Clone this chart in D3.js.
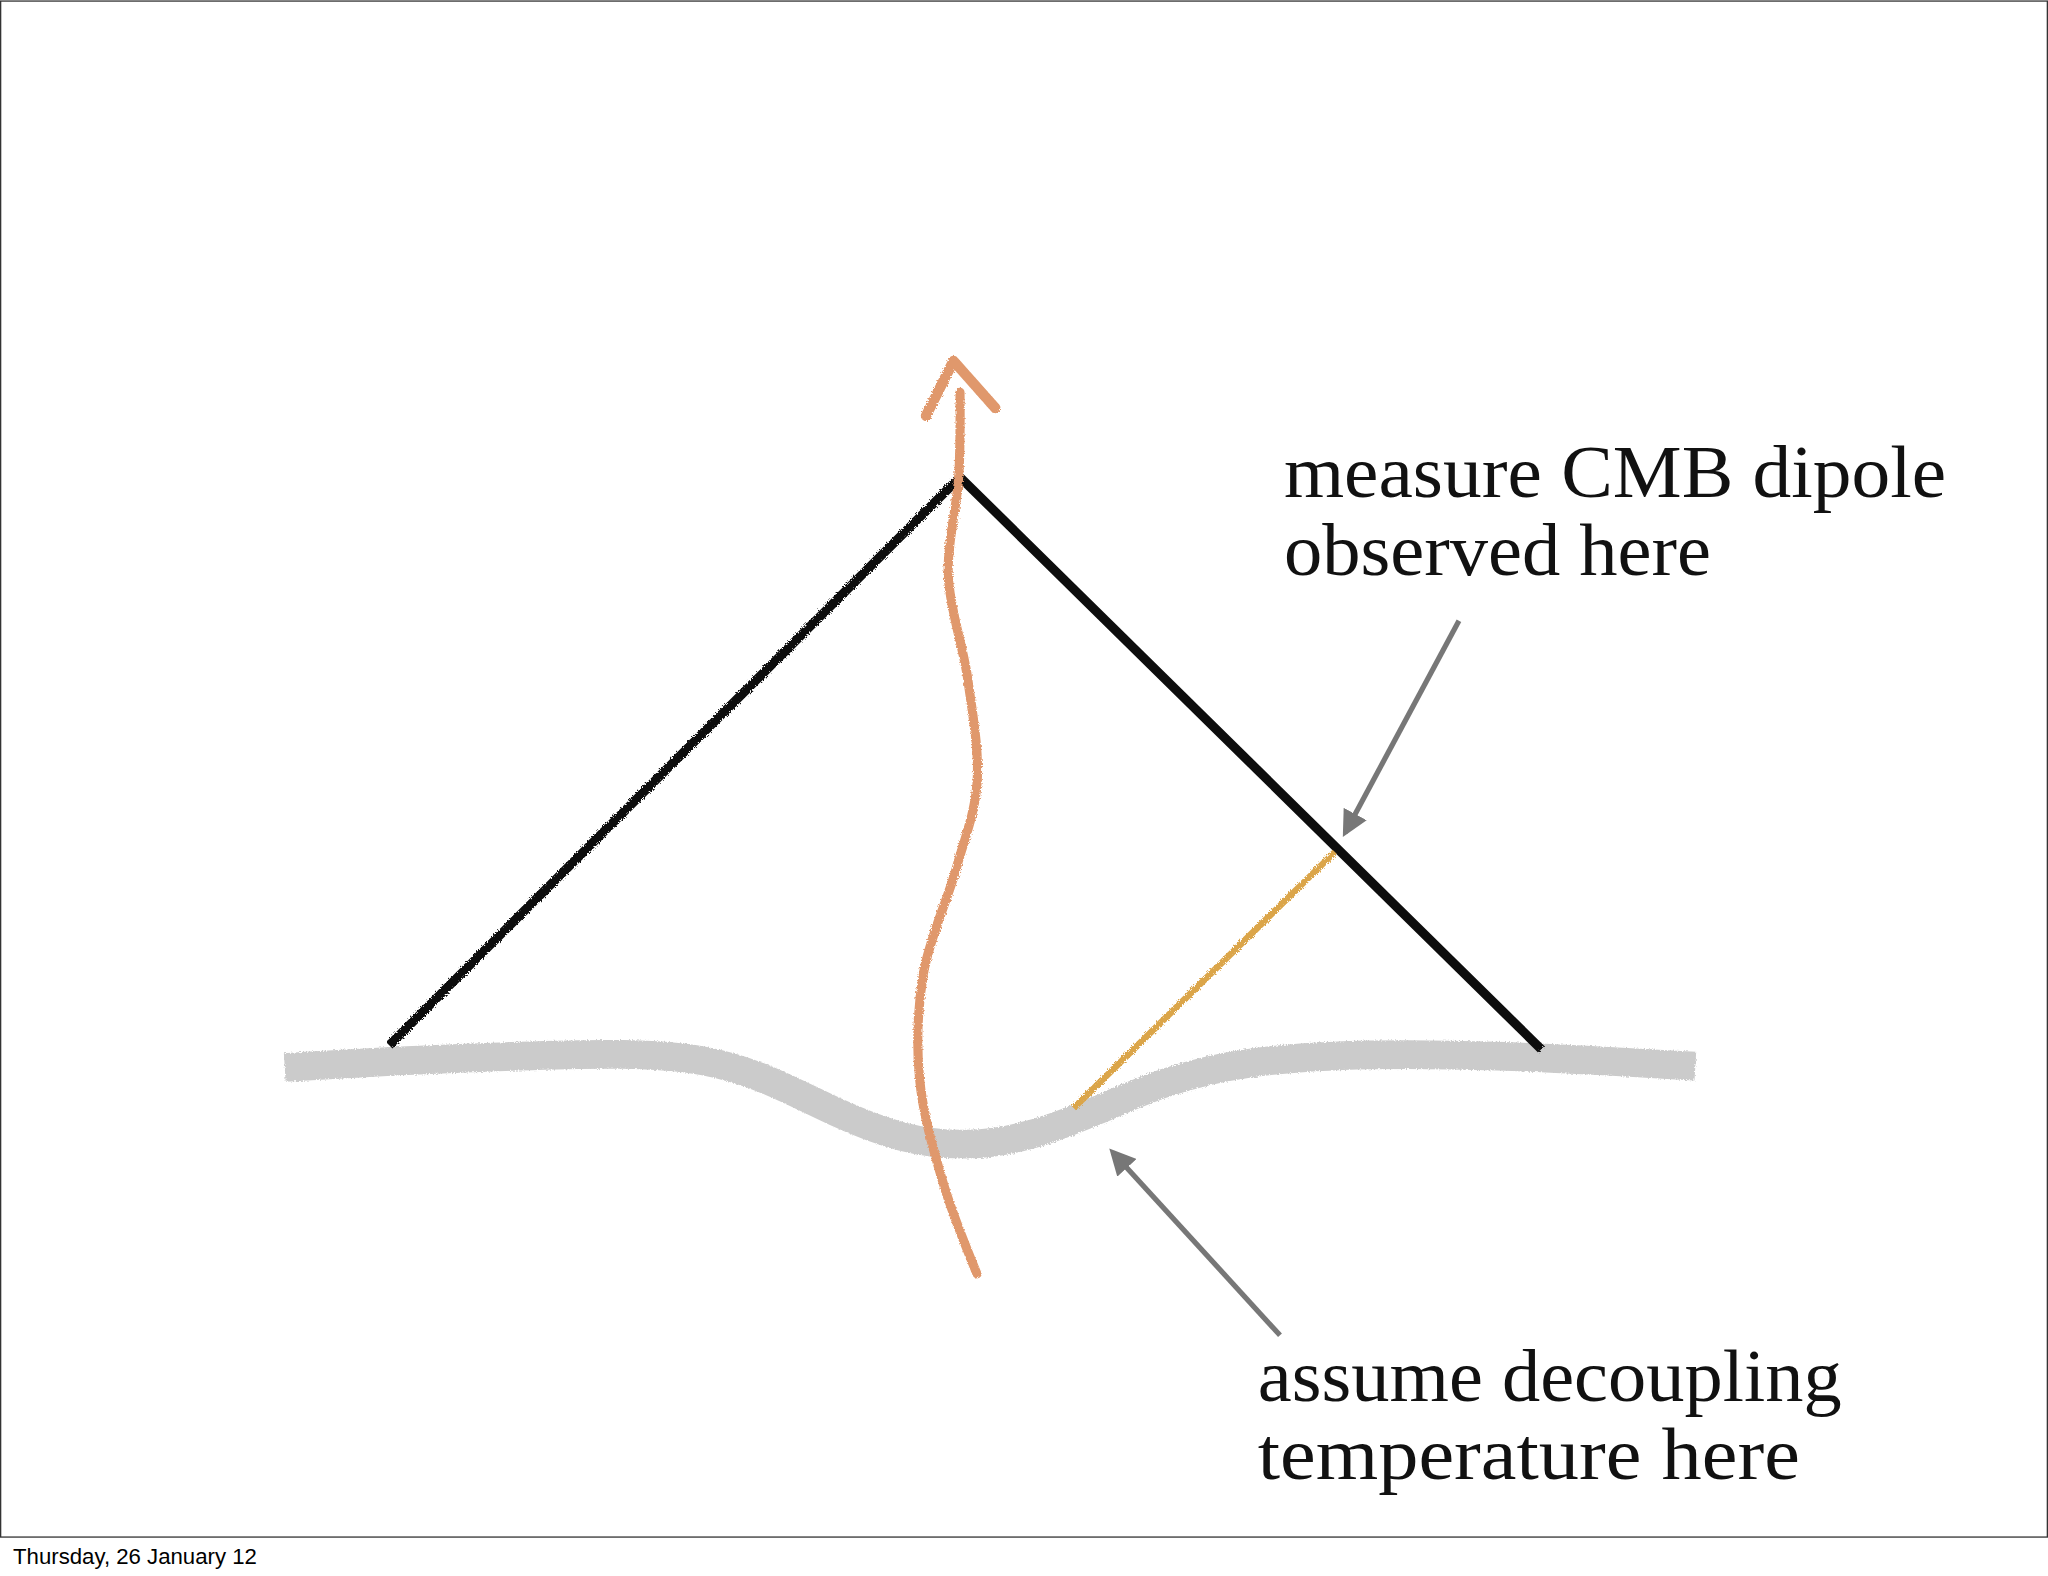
<!DOCTYPE html>
<html><head><meta charset="utf-8">
<script src="https://cdn.jsdelivr.net/npm/d3@7"></script>
<style>html,body{margin:0;padding:0;background:#fff;}</style>
</head><body>
<svg id="c" width="2048" height="1576" viewBox="0 0 1568 1206"></svg>
<script>
const surface = [[218,817],[300,812],[400,808],[480,806],[540,810],[590,826],[640,852],[690,872],[740,878],[790,870],[840,850],[890,828],[950,812],[1050,806],[1150,808],[1230,812],[1298,816]];
const cone = [[298,800],[735,365],[1180,803]];
const path = [[748,975],[722,905],[704,825],[707,745],[732,665],[748,600],[741,520],[726,440],[734,365],[735,300]];
const arrowHead = [[709,318],[730,276],[762,312]];
const sightLine = [[822,848],[1022,652]];
const pointers = [[[1117,475],[1030,637]],[[980,1022],[852,882]]];
const labels = [
  {lines:["measure CMB dipole","observed here"], widths:[507,327], x:983, y:380},
  {lines:["assume decoupling","temperature here"], widths:[447,415], x:963, y:1072}
];
const footer = "Thursday, 26 January 12";

const svg = d3.select("#c");
const defs = svg.append("defs");
const f = defs.append("filter").attr("id","rough").attr("filterUnits","userSpaceOnUse")
  .attr("x",0).attr("y",0).attr("width",1568).attr("height",1206);
f.append("feTurbulence").attr("type","fractalNoise").attr("baseFrequency",0.9).attr("numOctaves",2).attr("result","n");
f.append("feDisplacementMap").attr("in","SourceGraphic").attr("in2","n").attr("scale",3);
defs.append("marker").attr("id","ah").attr("viewBox","0 0 10 10").attr("refX",8).attr("refY",5)
  .attr("markerWidth",5).attr("markerHeight",5).attr("orient","auto")
  .append("path").attr("d","M0,0L10,5L0,10z").attr("fill","#777");

svg.append("rect").attr("x",0.5).attr("y",0.5).attr("width",1567).attr("height",1176).attr("fill","none").attr("stroke","#333").attr("stroke-width",1);

const smooth = d3.line().curve(d3.curveBasis);
const straight = d3.line();

svg.append("path").attr("d",smooth(surface)).attr("fill","none").attr("stroke","#cbcbcb").attr("stroke-width",22).attr("filter","url(#rough)");
svg.append("path").attr("d",straight(cone)).attr("fill","none").attr("stroke","#111").attr("stroke-width",7).attr("stroke-linejoin","miter").attr("filter","url(#rough)");
svg.append("path").attr("d",straight(sightLine)).attr("fill","none").attr("stroke","#dba54a").attr("stroke-width",5).attr("filter","url(#rough)");
svg.append("path").attr("d",d3.line().curve(d3.curveCatmullRom)(path)).attr("fill","none").attr("stroke","#e0986c").attr("stroke-width",7).attr("stroke-linecap","round").attr("filter","url(#rough)");
svg.append("path").attr("d",straight(arrowHead)).attr("fill","none").attr("stroke","#e0986c").attr("stroke-width",8).attr("stroke-linejoin","round").attr("stroke-linecap","round").attr("filter","url(#rough)");

pointers.forEach(p=>svg.append("path").attr("d",straight(p)).attr("fill","none").attr("stroke","#777").attr("stroke-width",4).attr("marker-end","url(#ah)"));

labels.forEach(l=>{
  l.lines.forEach((s,i)=>svg.append("text").attr("x",l.x).attr("y",l.y+i*60)
    .attr("font-family","'Liberation Serif','DejaVu Serif',serif").attr("font-size",56).attr("fill","#111")
    .attr("textLength",l.widths[i]).attr("lengthAdjust","spacingAndGlyphs").text(s));
});
svg.append("text").attr("x",10).attr("y",1197).attr("font-family","'Liberation Sans',Arial,sans-serif").attr("font-size",17).attr("fill","#000").text(footer);
</script>
</body></html>
